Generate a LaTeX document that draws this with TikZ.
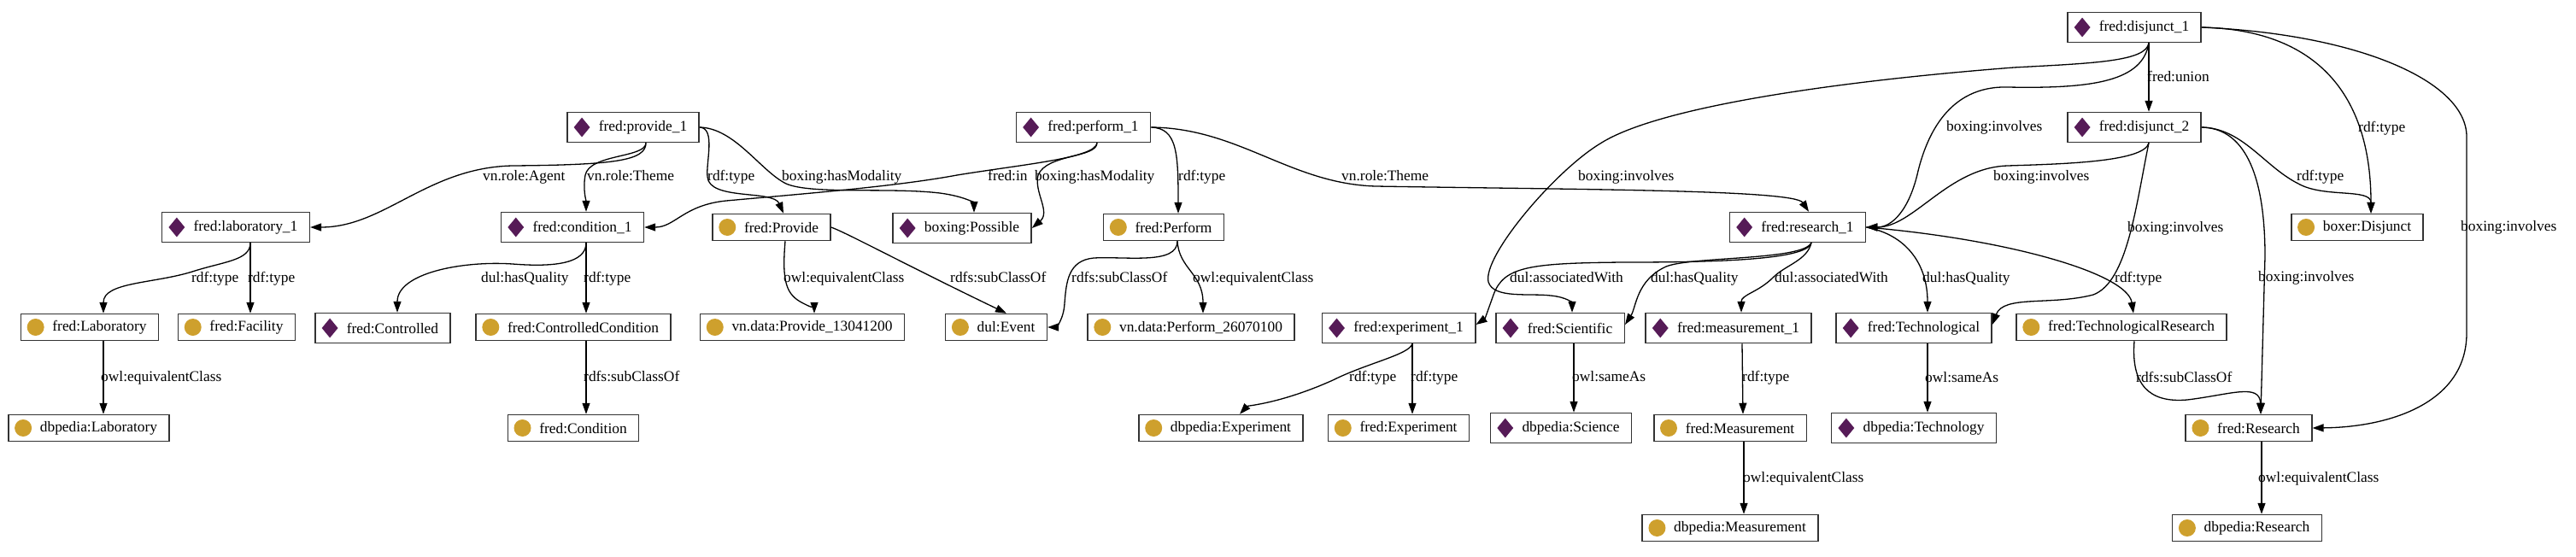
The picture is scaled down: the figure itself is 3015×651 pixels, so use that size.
\documentclass[tikz,border=0pt]{standalone}
\usepackage{fontspec}
\setmainfont{Liberation Serif}
\usetikzlibrary{arrows.meta,shapes.geometric,calc}
\definecolor{purp}{RGB}{86,27,87}
\definecolor{gold}{RGB}{206,160,45}
\newcommand\gvfont{\fontsize{17.4pt}{20pt}\selectfont}
\newcommand\mknode[5]{%
  \node[#1box] (#2) at (#3,#4) {\hspace*{23pt}#5};
  \node[#1ico] (#2i) at ([xshift=18pt]#2.west) {};}
\tikzset{
  Dbox/.style={draw=black!80, line width=1.5pt, rectangle, inner xsep=14pt, inner ysep=0pt, minimum height=35pt, font=\gvfont},
  Cbox/.style={Dbox, minimum height=31pt},
  Dico/.style={diamond, fill=purp, inner sep=0pt, minimum width=19pt, minimum height=23pt},
  Cico/.style={circle, fill=gold, inner sep=0pt, minimum size=20pt},
  lbl/.style={anchor=west, inner sep=0pt, font=\gvfont, text height=12pt, text depth=4pt},
  conn/.style={line width=1.3pt, -{Triangle[length=13pt,width=9pt]}},
}
\begin{document}
\begin{tikzpicture}[x=1pt,y=-1pt]
\fill[white] (0,0) rectangle (3015,651);
\useasboundingbox (0,0) rectangle (3015,651);
% nodes
\mknode{D}{disj1}{2498}{32}{fred:disjunct\_1}
\mknode{D}{prov1}{741}{149}{fred:provide\_1}
\mknode{D}{perf1}{1268}{149}{fred:perform\_1}
\mknode{D}{disj2}{2498}{149}{fred:disjunct\_2}
\mknode{D}{lab1}{276}{266}{fred:laboratory\_1}
\mknode{D}{cond1}{670}{266}{fred:condition\_1}
\mknode{C}{Provide}{903}{266}{fred:Provide}
\mknode{D}{Possible}{1126}{267}{boxing:Possible}
\mknode{C}{Perform}{1362}{266}{fred:Perform}
\mknode{D}{res1}{2104}{266}{fred:research\_1}
\mknode{C}{boxer}{2759}{266}{boxer:Disjunct}
\mknode{C}{Laboratory}{105}{383}{fred:Laboratory}
\mknode{C}{Facility}{277}{383}{fred:Facility}
\mknode{D}{Controlled}{448}{384}{fred:Controlled}
\mknode{C}{ContrCond}{671}{383}{fred:ControlledCondition}
\mknode{C}{vnProv}{939}{383}{vn.data:Provide\_13041200}
\mknode{C}{Event}{1166}{383}{dul:Event}
\mknode{C}{vnPerf}{1394}{383}{vn.data:Perform\_26070100}
\mknode{D}{exp1}{1637}{384}{fred:experiment\_1}
\mknode{D}{Scientific}{1826}{384}{fred:Scientific}
\mknode{D}{meas1}{2023}{384}{fred:measurement\_1}
\mknode{D}{Techn}{2240}{384}{fred:Technological}
\mknode{C}{TechRes}{2483}{383}{fred:TechnologicalResearch}
\mknode{C}{dbLab}{104}{501}{dbpedia:Laboratory}
\mknode{C}{Condition}{671}{501}{fred:Condition}
\mknode{C}{dbExp}{1429}{501}{dbpedia:Experiment}
\mknode{C}{fExp}{1637}{501}{fred:Experiment}
\mknode{D}{dbSci}{1827}{501}{dbpedia:Science}
\mknode{C}{fMeas}{2025}{501}{fred:Measurement}
\mknode{D}{dbTech}{2240}{501}{dbpedia:Technology}
\mknode{C}{fRes}{2632}{501}{fred:Research}
\mknode{C}{dbMeas}{2025}{618}{dbpedia:Measurement}
\mknode{C}{dbRes}{2630}{618}{dbpedia:Research}
% edges
\draw[conn] ([xshift=15pt]prov1.south) .. controls (756,188) and (720,193) .. (600,194) .. controls (500,196) and (450,266) .. (lab1.east);
\draw[conn] ([xshift=15pt]prov1.south) .. controls (756,185) and (690,180) .. (685,205) .. controls (682,222) and (686,235) .. ([xshift=16pt]cond1.north);
\draw[conn] (prov1.east) .. controls (838,150) and (826,190) .. (828,207) .. controls (830,235) and (905,222) .. ([xshift=14pt]Provide.north);
\draw[conn] (prov1.east) .. controls (860,150) and (890,200) .. (920,215) .. controls (950,228) and (1040,219) .. (1100,226) .. controls (1130,230) and (1140,238) .. ([xshift=14pt]Possible.north);
\draw[conn] ([xshift=16pt]perf1.south) .. controls (1282,185) and (1200,192) .. (1120,205) .. controls (1050,218) and (950,226) .. (850,235) .. controls (800,240) and (790,266) .. (cond1.east);
\draw[conn] ([xshift=16pt]perf1.south) .. controls (1284,185) and (1225,180) .. (1215,205) .. controls (1210,225) and (1230,248) .. (Possible.east);
\draw[conn] (perf1.east) .. controls (1378,150) and (1379,180) .. ([xshift=17pt]Perform.north);
\draw[conn] (perf1.east) .. controls (1450,150) and (1510,215) .. (1610,218) .. controls (1850,222) and (2100,222) .. ([xshift=13pt]res1.north);
\draw[conn] ([xshift=17pt]disj1.south) .. controls (2512,72) and (2450,74) .. (2357,79) .. controls (2150,95) and (1940,125) .. (1873,168) .. controls (1820,200) and (1735,300) .. (1742,330) .. controls (1748,350) and (1790,343) .. (1815,346) .. controls (1835,348) and (1840,355) .. ([xshift=14pt]Scientific.north);
\draw[conn] ([xshift=17pt]disj1.south) .. controls (2508,95) and (2450,104) .. (2350,102) .. controls (2280,100) and (2255,160) .. (2245,200) .. controls (2235,245) and (2215,266) .. (res1.east);
\draw[conn] ([xshift=17pt]disj1.south) -- ([xshift=17pt]disj2.north);
\draw[conn] (disj1.east) .. controls (2720,35) and (2775,120) .. ([xshift=16pt]boxer.north);
\draw[conn] (disj1.east) .. controls (2760,40) and (2887,95) .. (2887,160) -- (2887,390) .. controls (2887,470) and (2800,500) .. (fRes.east);
\draw[conn] ([xshift=17pt]disj2.south) .. controls (2510,190) and (2410,192) .. (2350,194) .. controls (2280,196) and (2240,266) .. (res1.east);
\draw[conn] ([xshift=17pt]disj2.south) .. controls (2500,240) and (2490,330) .. (2450,345) .. controls (2400,358) and (2345,345) .. ([yshift=4pt]Techn.east);
\draw[conn] (disj2.east) .. controls (2625,150) and (2650,195) .. (2690,215) .. controls (2720,232) and (2775,220) .. ([xshift=16pt]boxer.north);
\draw[conn] (disj2.east) .. controls (2625,150) and (2651,200) .. (2651,300) -- ([xshift=14pt]fRes.north);
\draw[conn] ([xshift=16pt]res1.south) .. controls (2115,305) and (2000,307) .. (1900,307) .. controls (1790,308) and (1760,312) .. (1748,345) .. controls (1742,362) and (1738,373) .. ([yshift=4pt]exp1.east);
\draw[conn] ([xshift=16pt]res1.south) .. controls (2110,305) and (1980,300) .. (1950,312) .. controls (1915,328) and (1915,360) .. ([yshift=4pt]Scientific.east);
\draw[conn] ([xshift=16pt]res1.south) .. controls (2115,305) and (2090,310) .. (2075,325) .. controls (2058,342) and (2038,345) .. ([xshift=15pt]meas1.north);
\draw[conn] (res1.east) .. controls (2232,275) and (2256,310) .. ([xshift=16pt]Techn.north);
\draw[conn] (res1.east) .. controls (2350,280) and (2490,320) .. ([xshift=14pt]TechRes.north);
\draw[conn] ([xshift=17pt]lab1.south) .. controls (293,305) and (262,306) .. (225,318) .. controls (180,332) and (121,330) .. ([xshift=16pt]Laboratory.north);
\draw[conn] ([xshift=17pt]lab1.south) -- ([xshift=16pt]Facility.north);
\draw[conn] ([xshift=16pt]Laboratory.south) -- ([xshift=17pt]dbLab.north);
\draw[conn] ([xshift=16pt]cond1.south) .. controls (686,308) and (650,313) .. (600,309) .. controls (540,305) and (465,320) .. ([xshift=17pt]Controlled.north);
\draw[conn] ([xshift=16pt]cond1.south) -- ([xshift=15pt]ContrCond.north);
\draw[conn] ([xshift=15pt]ContrCond.south) -- ([xshift=15pt]Condition.north);
\draw[conn] ([xshift=16pt]Provide.south) .. controls (915,330) and (920,345) .. (940,355) .. controls (950,360) and (953,362) .. ([xshift=14pt]vnProv.north);
\draw[conn] (Provide.east) .. controls (990,272) and (1060,310) .. ([xshift=12pt]Event.north);
\draw[conn] ([xshift=16pt]Perform.south) .. controls (1378,310) and (1320,300) .. (1280,302) .. controls (1250,305) and (1248,330) .. (1246,355) .. controls (1245,375) and (1235,383) .. (Event.east);
\draw[conn] ([xshift=16pt]Perform.south) .. controls (1380,315) and (1408,320) .. ([xshift=14pt]vnPerf.north);
\draw[conn] ([xshift=16pt]exp1.south) .. controls (1650,415) and (1600,425) .. (1560,445) .. controls (1500,472) and (1460,475) .. ([xshift=22pt]dbExp.north);
\draw[conn] ([xshift=16pt]exp1.south) -- ([xshift=16pt]fExp.north);
\draw[conn] ([xshift=16pt]Scientific.south) -- ([xshift=15pt]dbSci.north);
\draw[conn] ([xshift=16pt]meas1.south) -- ([xshift=15pt]fMeas.north);
\draw[conn] ([xshift=16pt]fMeas.south) -- ([xshift=16pt]dbMeas.north);
\draw[conn] ([xshift=16pt]Techn.south) -- ([xshift=16pt]dbTech.north);
\draw[conn] ([xshift=15pt]TechRes.south) .. controls (2494,450) and (2515,472) .. (2560,468) .. controls (2610,462) and (2645,448) .. ([xshift=14pt]fRes.north);
\draw[conn] ([xshift=15pt]fRes.south) -- ([xshift=17pt]dbRes.north);
% labels
\node[lbl] (l1) at (565,207) {vn.role:Agent};
\node[lbl] (l2) at (687,207) {vn.role:Theme};
\node[lbl] (l3) at (828,207) {rdf:type};
\node[lbl] (l4) at (915,207) {boxing:hasModality};
\node[lbl] (l5) at (1156,207) {fred:in};
\node[lbl] (l6) at (1211,207) {boxing:hasModality};
\node[lbl] (l7) at (1379,207) {rdf:type};
\node[lbl] (l8) at (1570,207) {vn.role:Theme};
\node[lbl] (l9) at (1847,207) {boxing:involves};
\node[lbl] (l10) at (2278,149) {boxing:involves};
\node[lbl] (l11) at (2513,91) {fred:union};
\node[lbl] (l12) at (2760,150) {rdf:type};
\node[lbl] (l13) at (2880,266) {boxing:involves};
\node[lbl] (l14) at (2333,207) {boxing:involves};
\node[lbl] (l15) at (2490,267) {boxing:involves};
\node[lbl] (l16) at (2688,207) {rdf:type};
\node[lbl] (l17) at (2643,325) {boxing:involves};
\node[lbl] (l18) at (1767,326) {dul:associatedWith};
\node[lbl] (l19) at (1932,326) {dul:hasQuality};
\node[lbl] (l20) at (2077,326) {dul:associatedWith};
\node[lbl] (l21) at (2250,326) {dul:hasQuality};
\node[lbl] (l22) at (2475,326) {rdf:type};
\node[lbl] (l23) at (224,326) {rdf:type};
\node[lbl] (l24) at (290,326) {rdf:type};
\node[lbl] (l25) at (118,442) {owl:equivalentClass};
\node[lbl] (l26) at (563,326) {dul:hasQuality};
\node[lbl] (l27) at (683,326) {rdf:type};
\node[lbl] (l28) at (683,442) {rdfs:subClassOf};
\node[lbl] (l29) at (917,326) {owl:equivalentClass};
\node[lbl] (l30) at (1112,326) {rdfs:subClassOf};
\node[lbl] (l31) at (1254,326) {rdfs:subClassOf};
\node[lbl] (l32) at (1396,326) {owl:equivalentClass};
\node[lbl] (l33) at (1579,442) {rdf:type};
\node[lbl] (l34) at (1651,442) {rdf:type};
\node[lbl] (l35) at (1840,442) {owl:sameAs};
\node[lbl] (l36) at (2039,442) {rdf:type};
\node[lbl] (l37) at (2040,560) {owl:equivalentClass};
\node[lbl] (l38) at (2253,443) {owl:sameAs};
\node[lbl] (l39) at (2500,443) {rdfs:subClassOf};
\node[lbl] (l40) at (2643,560) {owl:equivalentClass};
\end{tikzpicture}
\end{document}
